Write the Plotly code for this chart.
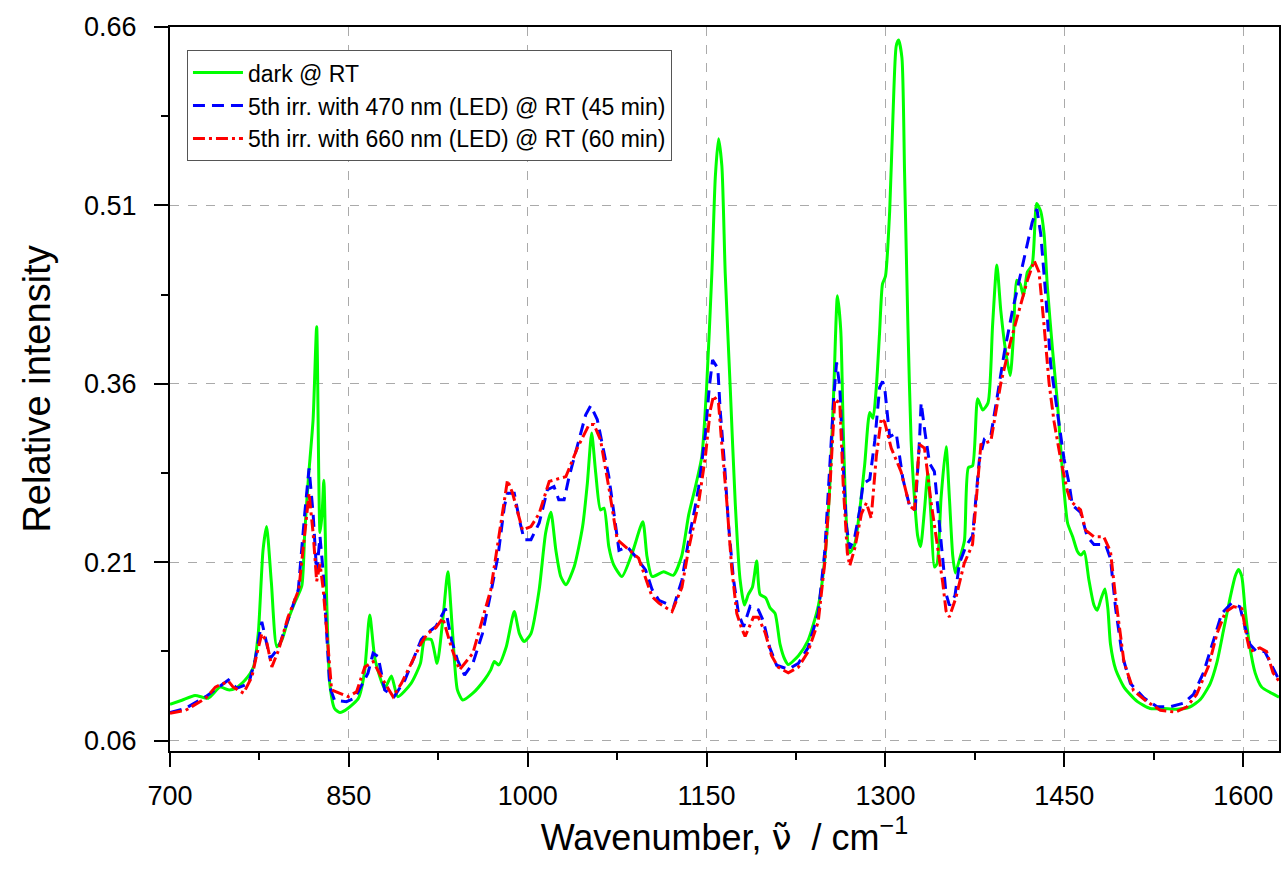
import plotly.graph_objects as go

# Raman spectra: wavenumber (cm^-1) vs relative intensity
dark_x = [700, 710, 721, 732, 742, 749, 755, 763, 770, 774, 778, 781, 785, 789.6, 794, 799, 805, 810.5, 813, 816, 820,
          823, 825.8, 827.5, 829, 831.4, 834, 838, 842.5, 849, 858, 863, 867.5, 872, 880, 885.7, 891, 902, 910, 913.5,
          919, 924, 929, 933, 937, 941, 945.5, 954, 963.6, 969, 972, 975.6, 982, 988.7, 993, 997, 1002.7, 1009.6,
          1015, 1019.4, 1023.6, 1027.7, 1032, 1039, 1046, 1050, 1053.6, 1057, 1061, 1064, 1068, 1072, 1079, 1087.6,
          1096.5, 1100, 1104.3, 1114, 1122, 1129, 1135, 1140.5, 1146, 1150, 1154.4, 1157.3, 1160, 1162.8, 1165.6,
          1169.8, 1174, 1178, 1181.7, 1185, 1188.4, 1192, 1194.8, 1199.6, 1203.2, 1207.4, 1211.6, 1215.7, 1218.5,
          1227, 1235, 1243.6, 1249, 1253.4, 1256.7, 1259.7, 1262.5, 1264.5, 1267.2, 1270, 1274.2, 1278.4, 1282.6,
          1286.8, 1289.5, 1292.3, 1295, 1297.5, 1300, 1303.5, 1306.3, 1309, 1311, 1313.8, 1316, 1318.8, 1321.5,
          1324.3, 1327, 1329.4, 1332.7, 1335.5, 1338.2, 1341, 1343.3, 1346.6, 1350.8, 1353.6, 1356.4, 1358.6, 1362,
          1366.2, 1369.5, 1373, 1377.3, 1381.5, 1386, 1389.8, 1393.4, 1396.7, 1401, 1404.6, 1407.4, 1410, 1413,
          1415.7, 1419, 1423, 1426.8, 1430.2, 1433, 1435.8, 1440, 1444.2, 1448.5, 1452.7, 1457, 1461, 1464, 1466.7,
          1470.6, 1474.8, 1477.6, 1481, 1484, 1486.5, 1488.7, 1493, 1500, 1511, 1522, 1533, 1544.5, 1555.6, 1564,
          1572.3, 1578, 1583.5, 1589, 1593.2, 1596, 1598.8, 1601.5, 1605.2, 1610, 1615.5, 1622.5, 1630]
dark_y = [0.0905, 0.094, 0.098, 0.0957, 0.105, 0.1027, 0.104, 0.111, 0.122, 0.150, 0.220, 0.240, 0.193, 0.139, 0.145,
          0.1615, 0.177, 0.190, 0.235, 0.280, 0.330, 0.408, 0.235, 0.250, 0.279, 0.178, 0.108, 0.087, 0.0836, 0.087,
          0.0957, 0.1167, 0.1657, 0.128, 0.104, 0.1144, 0.097, 0.108, 0.125, 0.145, 0.145, 0.125, 0.164, 0.202, 0.150,
          0.1027, 0.0942, 0.0999, 0.111, 0.1195, 0.1265, 0.1237, 0.139, 0.1685, 0.150, 0.1433, 0.150, 0.187, 0.2345,
          0.252, 0.220, 0.198, 0.191, 0.2064, 0.240, 0.2765, 0.3186, 0.285, 0.254, 0.2555, 0.223, 0.208, 0.198,
          0.2177, 0.244, 0.2148, 0.198, 0.202, 0.199, 0.2148, 0.250, 0.273, 0.299, 0.357, 0.453, 0.534, 0.566, 0.543,
          0.453, 0.357, 0.260, 0.196, 0.174, 0.183, 0.189, 0.211, 0.183, 0.180, 0.1716, 0.167, 0.141, 0.128, 0.124,
          0.1314, 0.144, 0.173, 0.212, 0.276, 0.357, 0.434, 0.405, 0.325, 0.244, 0.218, 0.225, 0.254, 0.2925, 0.336,
          0.331, 0.357, 0.402, 0.444, 0.4506, 0.505, 0.586, 0.644, 0.649, 0.634, 0.538, 0.409, 0.312, 0.264, 0.232,
          0.223, 0.254, 0.285, 0.248, 0.206, 0.209, 0.264, 0.307, 0.264, 0.2155, 0.201, 0.212, 0.228, 0.2896, 0.291,
          0.3475, 0.338, 0.344, 0.409, 0.460, 0.4216, 0.386, 0.367, 0.402, 0.447, 0.444, 0.434, 0.454, 0.460, 0.5117,
          0.505, 0.486, 0.441, 0.3896, 0.344, 0.285, 0.243, 0.2314, 0.219, 0.216, 0.219, 0.195, 0.174, 0.1696, 0.180,
          0.1876, 0.171, 0.141, 0.120, 0.105, 0.093, 0.087, 0.087, 0.0864, 0.0885, 0.0946, 0.108, 0.126, 0.153,
          0.180, 0.198, 0.204, 0.198, 0.171, 0.141, 0.117, 0.105, 0.1006, 0.0965]

blue_x = [700, 713, 730, 749, 756, 766, 771.4, 777, 781, 784, 791, 799, 807.6, 813, 816.6, 820, 823, 825.8, 828.5,
          831.4, 834, 838, 848, 855, 866, 870.3, 874.5, 880, 888, 897, 910.7, 915, 923, 931, 936, 941, 947, 954, 962,
          969, 975, 980.4, 983, 988.7, 993, 997, 1002.7, 1009.6, 1016.5, 1022, 1026, 1030.5, 1034.7, 1043, 1048.6,
          1052.8, 1058.3, 1064, 1068, 1072.3, 1076.5, 1083.4, 1090.4, 1098.8, 1104.3, 1110, 1122.4, 1129.3, 1135,
          1140.5, 1143.3, 1149, 1152.2, 1155, 1159.4, 1161.4, 1165, 1168.4, 1172.5, 1176.7, 1181, 1186.5, 1193.4,
          1197.6, 1203, 1208.7, 1218.5, 1227, 1235, 1243.6, 1249, 1253.4, 1256.7, 1259, 1261.7, 1264.5, 1267.2, 1270,
          1274.2, 1278.4, 1281.2, 1286.8, 1291, 1295.1, 1297.5, 1299.3, 1303.5, 1309, 1314.6, 1320.2, 1324.9, 1328.5,
          1329.9, 1333.2, 1337, 1341, 1343.8, 1348, 1350.8, 1353.6, 1358.3, 1362, 1367.5, 1373, 1378.7, 1383, 1388.4,
          1394, 1399.6, 1406.5, 1412, 1417.6, 1423, 1427, 1430.2, 1434.4, 1438.5, 1444.2, 1449.7, 1454, 1456.7,
          1463.6, 1469.2, 1474.8, 1484.5, 1488.7, 1493, 1498.5, 1505.4, 1516.6, 1527.7, 1538.8, 1550, 1558.3, 1566.6,
          1575, 1582, 1590.3, 1597.2, 1601.4, 1605.6, 1611, 1618, 1624, 1630]
blue_y = [0.0836, 0.0872, 0.097, 0.111, 0.104, 0.108, 0.128, 0.160, 0.142, 0.129, 0.138, 0.1615, 0.187, 0.251, 0.289,
          0.251, 0.201, 0.2316, 0.201, 0.150, 0.105, 0.094, 0.0928, 0.0957, 0.1167, 0.1335, 0.1307, 0.1027, 0.097,
          0.111, 0.145, 0.150, 0.156, 0.171, 0.145, 0.128, 0.115, 0.125, 0.150, 0.184, 0.2148, 0.257, 0.268, 0.268,
          0.2457, 0.229, 0.229, 0.243, 0.271, 0.2737, 0.2625, 0.2625, 0.282, 0.313, 0.334, 0.3416, 0.330, 0.302,
          0.282, 0.251, 0.220, 0.223, 0.2148, 0.2036, 0.187, 0.178, 0.1727, 0.195, 0.229, 0.257, 0.273, 0.318, 0.357,
          0.380, 0.373, 0.3375, 0.2925, 0.241, 0.196, 0.167, 0.1557, 0.173, 0.170, 0.1605, 0.138, 0.1234, 0.120,
          0.125, 0.138, 0.167, 0.218, 0.2925, 0.350, 0.378, 0.357, 0.2925, 0.241, 0.2216, 0.231, 0.254, 0.276, 0.2796,
          0.312, 0.357, 0.362, 0.357, 0.3155, 0.3186, 0.280, 0.2575, 0.254, 0.312, 0.344, 0.3186, 0.293, 0.2864,
          0.2575, 0.2155, 0.1834, 0.1737, 0.182, 0.209, 0.2236, 0.232, 0.296, 0.3138, 0.317, 0.351, 0.386, 0.4216,
          0.447, 0.473, 0.4957, 0.507, 0.486, 0.4345, 0.3766, 0.336, 0.297, 0.276, 0.258, 0.252, 0.2314, 0.225,
          0.225, 0.213, 0.171, 0.132, 0.108, 0.096, 0.0885, 0.0885, 0.0915, 0.099, 0.117, 0.144, 0.167, 0.1757,
          0.1726, 0.156, 0.141, 0.135, 0.135, 0.123, 0.111]

red_x = [700, 713, 730, 738, 749, 753, 761.7, 768.7, 773, 777, 781, 785.4, 791, 799, 808, 813, 816.6, 820, 823, 825.8,
         828.5, 832.8, 835.5, 849.4, 856.4, 863.4, 870.3, 878.7, 887, 894, 910.7, 916, 923, 928.8, 935.8, 942.7, 954,
         969, 976, 983, 987.3, 995.6, 1002.7, 1009.6, 1018, 1032, 1041.6, 1051.4, 1055.6, 1061, 1068, 1075, 1082,
         1093, 1104.3, 1110, 1121, 1129.3, 1135, 1143.3, 1149, 1153, 1155.8, 1160, 1162.8, 1167, 1171, 1175.3,
         1179.5, 1182.3, 1189.2, 1193.4, 1199, 1204.5, 1210, 1218.5, 1227, 1235, 1243.6, 1249, 1253.4, 1257.5,
         1261.7, 1264.5, 1268, 1270, 1274.2, 1279.8, 1284, 1288, 1292.3, 1296.5, 1299.3, 1304.8, 1313, 1320.2,
         1324.3, 1328.5, 1332.7, 1338.2, 1343.8, 1348, 1350.8, 1353.6, 1359, 1366, 1373, 1380, 1388.4, 1396.7, 1405,
         1413.5, 1419, 1424.7, 1428.8, 1433, 1437.2, 1441.4, 1447, 1452.5, 1455.2, 1463.6, 1467.8, 1474.8, 1483,
         1488.7, 1493, 1500, 1508, 1519, 1530.5, 1543, 1552.8, 1561, 1571, 1578, 1585, 1592, 1598.8, 1603, 1605.6,
         1614, 1619.6, 1625, 1630]
red_y = [0.083, 0.0855, 0.0957, 0.105, 0.110, 0.105, 0.0999, 0.1138, 0.1335, 0.150, 0.1433, 0.122, 0.136, 0.164,
         0.187, 0.2347, 0.268, 0.2347, 0.194, 0.2087, 0.187, 0.136, 0.1027, 0.097, 0.101, 0.122, 0.1265, 0.111,
         0.097, 0.108, 0.142, 0.150, 0.155, 0.163, 0.139, 0.1195, 0.1335, 0.187, 0.2345, 0.279, 0.268, 0.237, 0.240,
         0.251, 0.278, 0.282, 0.306, 0.3257, 0.3257, 0.313, 0.273, 0.229, 0.223, 0.2134, 0.181, 0.1756, 0.1685,
         0.189, 0.2216, 0.260, 0.299, 0.3375, 0.350, 0.344, 0.3085, 0.260, 0.2055, 0.167, 0.154, 0.1476, 0.1637,
         0.1637, 0.151, 0.1314, 0.1218, 0.117, 0.1218, 0.1346, 0.160, 0.2087, 0.273, 0.347, 0.344, 0.276, 0.218,
         0.207, 0.2216, 0.2506, 0.260, 0.247, 0.299, 0.331, 0.328, 0.306, 0.2864, 0.2575, 0.254, 0.309, 0.306,
         0.2607, 0.222, 0.193, 0.169, 0.164, 0.180, 0.209, 0.225, 0.309, 0.312, 0.3604, 0.396, 0.428, 0.447, 0.4635,
         0.4538, 0.409, 0.3604, 0.328, 0.296, 0.270, 0.2614, 0.254, 0.237, 0.2314, 0.2314, 0.219, 0.180, 0.126,
         0.102, 0.093, 0.0855, 0.084, 0.0885, 0.099, 0.123, 0.150, 0.168, 0.1727, 0.171, 0.147, 0.135, 0.138, 0.135,
         0.117, 0.110]

series_names = ["dark @ RT",
                "5th irr. with 470 nm (LED) @ RT (45 min)",
                "5th irr. with 660 nm (LED) @ RT (60 min)"]

x_ticks = [700, 850, 1000, 1150, 1300, 1450, 1600]
y_ticks = [0.06, 0.21, 0.36, 0.51, 0.66]

FONT = "Arial, Liberation Sans, sans-serif"

fig = go.Figure()
fig.add_trace(go.Scatter(x=dark_x, y=dark_y, mode="lines", name=series_names[0],
                         line=dict(color="#00FF00", width=3, shape="spline", smoothing=0.6)))
fig.add_trace(go.Scatter(x=blue_x, y=blue_y, mode="lines", name=series_names[1],
                         line=dict(color="#0000FF", width=3, dash="12px,7px")))
fig.add_trace(go.Scatter(x=red_x, y=red_y, mode="lines", name=series_names[2],
                         line=dict(color="#FF0000", width=3, dash="12px,4px,3px,4px")))

axis_common = dict(
    showline=True, linecolor="black", linewidth=2, mirror=True,
    ticks="outside", ticklen=14, tickwidth=2, tickcolor="black",
    showgrid=True, gridcolor="#AAAAAA", gridwidth=1, griddash="dash",
    zeroline=False,
    tickfont=dict(family=FONT, size=27, color="black"),
)

nu_tilde = '<span style="font-family:DejaVu Sans">\u03bd\u0303</span>'

fig.update_xaxes(
    range=[700, 1630], tickmode="array", tickvals=x_ticks, ticktext=[str(v) for v in x_ticks],
    minor=dict(dtick=75, tick0=700, ticks="outside", ticklen=7, tickwidth=2, tickcolor="black", showgrid=False),
    title=dict(text=f"Wavenumber, {nu_tilde}  / cm<sup>\u22121</sup>",
               font=dict(family=FONT, size=36, color="black"), standoff=0),
    ticklabelstandoff=6,
    **axis_common,
)
fig.update_yaxes(
    range=[0.0513, 0.66], tickmode="array", tickvals=y_ticks, ticktext=[f"{v:.2f}" for v in y_ticks],
    minor=dict(dtick=0.075, tick0=0.06, ticks="outside", ticklen=7, tickwidth=2, tickcolor="black", showgrid=False),
    title=dict(text="Relative intensity", font=dict(family=FONT, size=38, color="black"), standoff=22),
    ticklabelstandoff=12,
    **axis_common,
)

fig.update_layout(
    width=1285, height=873,
    margin=dict(l=170, r=4, t=27, b=122),
    paper_bgcolor="white", plot_bgcolor="white",
    font=dict(family=FONT, color="black"),
    showlegend=True,
    legend=dict(x=0.0153, y=0.968, xanchor="left", yanchor="top",
                bgcolor="white", bordercolor="#555555", borderwidth=1,
                font=dict(family=FONT, size=23, color="black"),
                itemwidth=50, tracegroupgap=0),
)

fig.write_html("out.html")
